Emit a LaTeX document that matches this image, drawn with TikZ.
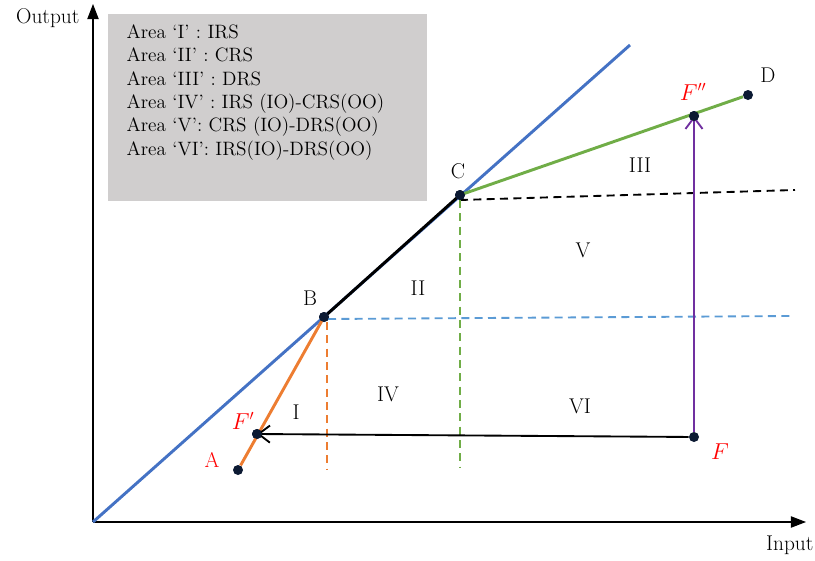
\documentclass[tikz,border=0pt]{standalone}
\usepackage{fontspec}
\usetikzlibrary{arrows.meta}
\definecolor{lineblue}{HTML}{4472C4}
\definecolor{dashblue}{HTML}{5B9BD5}
\definecolor{lineorange}{HTML}{ED7D31}
\definecolor{linegreen}{HTML}{70AD47}
\definecolor{linepurple}{HTML}{7030A0}
\definecolor{dotnavy}{HTML}{0C1A33}
\definecolor{boxgray}{HTML}{D0CECE}

\begin{document}
\begin{tikzpicture}[
  x=0.75pt, y=-0.75pt,
  dot/.style={circle, fill=dotnavy, inner sep=0pt, minimum size=7.5pt},
  lbl/.style={font=\fontsize{16}{18}\selectfont, inner sep=1pt},
  rlbl/.style={lbl, text=red, font=\fontsize{16}{18}\selectfont\itshape},
  axis/.style={-{Triangle[length=4mm, width=3mm]}, line width=0.8pt},
  seg/.style={line width=2.2pt},
  guide/.style={line width=1.4pt, dash pattern=on 6pt off 4pt},
  move/.style={-{Straight Barb[length=3mm, width=4.5mm]}, line width=1.4pt},
]
\useasboundingbox (0,0) rectangle (815,561);

% axes
\coordinate (o) at (93,522);
\coordinate (xend) at (806,522);
\coordinate (yend) at (93,4);
\draw[axis] (o) -- (xend);
\draw[axis] (o) -- (yend);
\node[lbl, anchor=north east] (xlab) at (815,534) {Input};
\node[lbl, anchor=east] (ylab) at (81,18) {Output};

% legend
\node[fill=boxgray, minimum width=239pt, minimum height=140pt, anchor=north west,
      inner sep=0pt] (legend) at (108,14) {};
\node[lbl, anchor=north west, align=left, font=\fontsize{14.5}{17.5}\selectfont]
  (legtxt) at (125,23) {Area `I' : IRS\\ Area `II' : CRS\\ Area `III' : DRS\\
  Area `IV' : IRS (IO)-CRS(OO)\\ Area `V': CRS (IO)-DRS(OO)\\
  Area `VI': IRS(IO)-DRS(OO)};

% points
\node[dot] (A)  at (238,470) {};
\node[dot] (F1) at (257,434) {};
\node[dot] (B)  at (324,317) {};
\node[dot] (C)  at (460,195) {};
\node[dot] (D)  at (748,95)  {};
\node[dot] (F2) at (694,116) {};
\node[dot] (F)  at (694,437) {};
\coordinate (bl) at (630,45);

% guides
\draw[guide, black] (C.center) ++(0,5) coordinate (c1) -- (795,190) coordinate (c2);
\draw[guide, dashblue] (B.center) ++(4,2) coordinate (b1) -- (791,316) coordinate (b2);
\draw[guide, lineorange] (327,322) coordinate (o1) -- (327,470) coordinate (o2);
\draw[guide, linegreen] (460,200) coordinate (g1) -- (460,468) coordinate (g2);

% production lines
\draw[seg, lineblue] (o) -- (bl);
\draw[seg, lineorange] (A) -- (B.center);
\draw[seg, black] (B.center) -- (C.center);
\draw[seg, linegreen] (C.center) -- (D);
\draw[move, linepurple] (F) -- (F2.center);
\draw[move, black] (F) -- (F1.center);
\node[dot] at (B) {};
\node[dot] at (C) {};
\node[dot] at (F1) {};
\node[dot] at (F2) {};

% labels
\node[lbl, text=red] (Alab) at (212,460) {A};
\node[rlbl] (F1lab) at (243,421) {$F'$};
\node[lbl] (Blab) at (310,298) {B};
\node[lbl] (Clab) at (458,171) {C};
\node[lbl] (Dlab) at (768,75) {D};
\node[rlbl] (F2lab) at (693,92) {$F''$};
\node[rlbl] (Flab) at (720,452) {$F$};
\node[lbl] (r1) at (296,412) {I};
\node[lbl] (r2) at (418,288) {II};
\node[lbl] (r3) at (640,165) {III};
\node[lbl] (r4) at (388,394) {IV};
\node[lbl] (r5) at (583,250) {V};
\node[lbl] (r6) at (580,406) {VI};
\end{tikzpicture}
\end{document}
